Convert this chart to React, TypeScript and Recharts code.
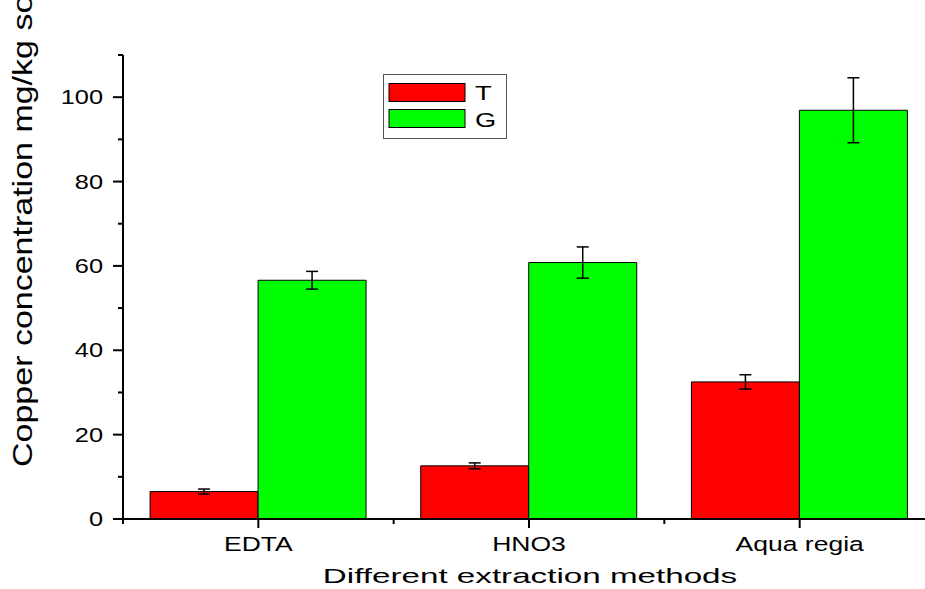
import React from "react";
import { BarChart, Bar, XAxis, YAxis, ErrorBar, Label, Legend } from "recharts";

const methods = ["EDTA", "HNO3", "Aqua regia"];
const tValues = [6.5, 12.6, 32.5];
const tErrors = [0.6, 0.7, 1.7];
const gValues = [56.6, 60.8, 96.9];
const gErrors = [2.1, 3.7, 7.7];
const yTicks = [0, 10, 20, 30, 40, 50, 60, 70, 80, 90, 100, 110];

const data = methods.map((m, i) => ({
  name: m,
  T: tValues[i],
  tErr: tErrors[i],
  G: gValues[i],
  gErr: gErrors[i],
}));

const FONT = "'Liberation Sans', Arial, sans-serif";
const AXIS_X = 123;
const AXIS_Y = 519;
const BAND = (935 - AXIS_X) / methods.length;

// reference text is drawn wide, so stretch it horizontally
const Wide = ({ x, y, sx, size, anchor, children }: any) => (
  <text
    transform={`translate(${x} ${y}) scale(${sx} 1)`}
    textAnchor={anchor}
    fontSize={size}
    fontFamily={FONT}
    fill="#000"
  >
    {children}
  </text>
);

const YTick = (props: any) => {
  const { y, payload } = props;
  const major = payload.value % 20 === 0;
  return (
    <g>
      <line x1={AXIS_X - (major ? 10 : 5)} x2={AXIS_X} y1={y} y2={y} stroke="#000" strokeWidth={2} />
      {major && (
        <Wide x={103} y={y + 7} sx={1.3} size={19.5} anchor="end">
          {payload.value}
        </Wide>
      )}
    </g>
  );
};

const XTick = (props: any) => {
  const { x, payload, index } = props;
  return (
    <g>
      <line x1={x} x2={x} y1={AXIS_Y} y2={AXIS_Y + 9} stroke="#000" strokeWidth={2} />
      <line x1={x - BAND / 2} x2={x - BAND / 2} y1={AXIS_Y} y2={AXIS_Y + 5} stroke="#000" strokeWidth={2} />
      {index === methods.length - 1 && (
        <line x1={x + BAND / 2} x2={x + BAND / 2} y1={AXIS_Y} y2={AXIS_Y + 5} stroke="#000" strokeWidth={2} />
      )}
      <Wide x={x} y={551} sx={1.36} size={19.5} anchor="middle">
        {payload.value}
      </Wide>
    </g>
  );
};

const LegendBox = () => (
  <svg width={125} height={66} style={{ display: "block" }}>
    <rect x={0.5} y={0.5} width={123} height={64} fill="#fff" stroke="#555" strokeWidth={1} />
    <rect x={6} y={9.5} width={76} height={18} fill="#ff0000" stroke="#000" strokeWidth={1} />
    <rect x={6} y={35.5} width={76} height={18} fill="#00ff00" stroke="#000" strokeWidth={1} />
    <Wide x={92} y={25.5} sx={1.3} size={21} anchor="start">T</Wide>
    <Wide x={92} y={52.5} sx={1.3} size={21} anchor="start">G</Wide>
  </svg>
);

export default function App() {
  return (
    <div style={{ position: "absolute", left: 0, top: 0, width: 925, height: 589, overflow: "hidden", background: "#fff" }}>
      <BarChart
        width={940}
        height={589}
        data={data}
        margin={{ top: 55, right: 5, left: 63, bottom: 40 }}
        barCategoryGap="10%"
        barGap={0}
      >
        <XAxis
          dataKey="name"
          height={30}
          tickLine={false}
          tick={<XTick />}
          axisLine={{ stroke: "#000", strokeWidth: 2 }}
        >
          <Label
            content={() => (
              <Wide x={530} y={583} sx={1.66} size={20} anchor="middle">
                Different extraction methods
              </Wide>
            )}
          />
        </XAxis>
        <YAxis
          width={60}
          domain={[0, 110]}
          ticks={yTicks}
          interval={0}
          tickLine={false}
          tick={<YTick />}
          axisLine={{ stroke: "#000", strokeWidth: 2 }}
        >
          <Label
            content={() => (
              <text
                transform="translate(32 467) scale(0.82 1) rotate(-90)"
                textAnchor="start"
                fontSize={34}
                fontFamily={FONT}
                fill="#000"
              >
                Copper concentration mg/kg soil
              </text>
            )}
          />
        </YAxis>
        <Legend
          layout="horizontal"
          verticalAlign="middle"
          align="center"
          wrapperStyle={{ left: 383, top: 74, width: 125, height: 66 }}
          content={<LegendBox />}
        />
        <Bar dataKey="T" fill="#ff0000" stroke="#000" strokeWidth={1} isAnimationActive={false}>
          <ErrorBar dataKey="tErr" width={6} stroke="#000" strokeWidth={1.5} />
        </Bar>
        <Bar dataKey="G" fill="#00ff00" stroke="#000" strokeWidth={1} isAnimationActive={false}>
          <ErrorBar dataKey="gErr" width={6} stroke="#000" strokeWidth={1.5} />
        </Bar>
      </BarChart>
    </div>
  );
}
